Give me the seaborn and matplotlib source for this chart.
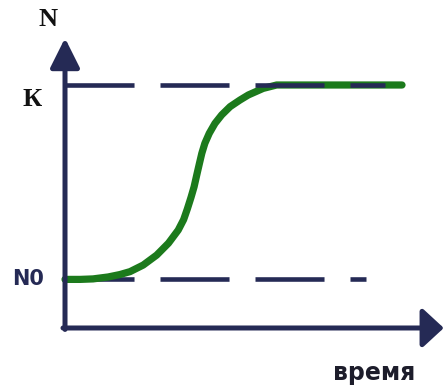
import matplotlib
matplotlib.use("Agg")
import matplotlib.pyplot as plt
import seaborn as sns
import pandas as pd

# logistic growth curve
time = [0.0, 0.45, 0.83, 1.28, 1.63, 1.93, 2.32, 2.72, 3.07, 3.36, 3.52, 3.63,
        3.74, 3.83, 3.91, 3.99, 4.06, 4.15, 4.28, 4.45, 4.65, 4.90, 5.19, 5.44,
        5.88, 6.28, 10.0]
population = [20.0, 20.0, 20.2, 21.0, 22.0, 23.2, 25.9, 30.0, 34.9, 40.3, 44.6,
              49.0, 53.8, 58.1, 63.0, 67.8, 71.9, 76.0, 80.1, 84.2, 87.7, 91.1,
              93.8, 95.9, 98.6, 100.0, 100.0]
K = 100
N0 = 20
k_line_end = 9.5
n0_line_end = 8.93

NAVY = "#252a55"
GREEN = "#1c7a1c"

sns.set_style("white")
plt.rcParams["lines.scale_dashes"] = False

fig = plt.figure(figsize=(4.44, 3.85), dpi=100)
ax = fig.add_axes([0, 0, 1, 1])
ax.set_xlim(-1.929, 11.246)
ax.set_ylim(-23.46, 134.98)
ax.axis("off")

df = pd.DataFrame({"t": time, "N": population})

# N0 level sits under the curve
ax.plot([0, n0_line_end], [N0, N0], color=NAVY, lw=3.3,
        linestyle=(0, (49.7, 18.7)), dash_capstyle="butt", zorder=1)
sns.lineplot(data=df, x="t", y="N", color=GREEN, lw=5.2, ax=ax, zorder=2,
             solid_capstyle="round", solid_joinstyle="round")
# K level on top of the curve
ax.plot([0, k_line_end], [K, K], color=NAVY, lw=3.3,
        linestyle=(0, (49.7, 18.7)), dash_capstyle="butt", zorder=3)

# axes as arrows
ax.annotate("", xy=(0, 119.3), xytext=(0, -0.6), annotation_clip=False,
            arrowprops=dict(arrowstyle="-|>,head_length=0.9,head_width=0.45",
                            color=NAVY, lw=3.6, shrinkA=0, shrinkB=0,
                            mutation_scale=20), zorder=4)
ax.annotate("", xy=(11.24, 0), xytext=(-0.06, 0), annotation_clip=False,
            arrowprops=dict(arrowstyle="-|>,head_length=0.65,head_width=0.6",
                            color=NAVY, lw=3.6, shrinkA=0, shrinkB=0,
                            mutation_scale=20), zorder=4)

serif = ["Liberation Serif", "DejaVu Serif"]
ax.text(-0.51, 127.0, "N", family=serif, fontweight="bold", fontsize=19,
        ha="center", va="center", color="#111111")
ax.text(-0.98, 94.0, "К", family=serif, fontweight="bold", fontsize=19,
        ha="center", va="center", color="#111111")
ax.text(-1.09, 20.0, "N0", fontweight="bold", fontsize=15,
        ha="center", va="center", color=NAVY)
ax.text(9.17, -18.5, "время", fontweight="bold", fontsize=17,
        ha="center", va="center", color="#1d1d2b")

fig.savefig("out.png", dpi=100)
